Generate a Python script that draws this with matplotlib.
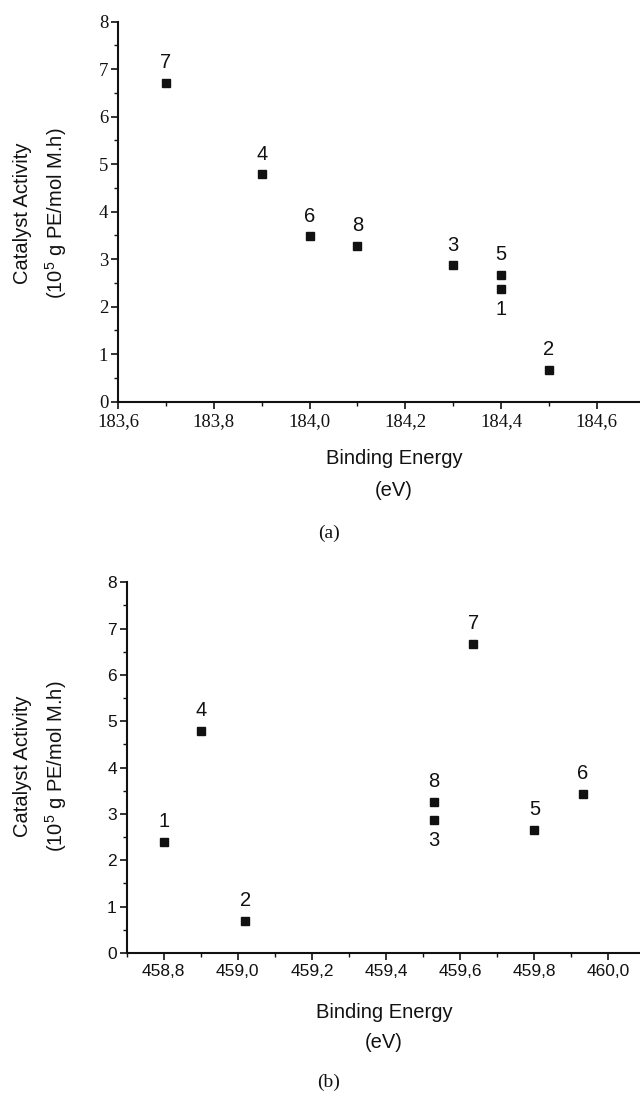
import matplotlib
matplotlib.use("Agg")
import matplotlib.pyplot as plt
from matplotlib.ticker import MultipleLocator, FuncFormatter

plt.rcParams['font.family'] = ['Liberation Sans', 'DejaVu Sans']
plt.rcParams['mathtext.fontset'] = 'custom'
plt.rcParams['mathtext.rm'] = 'Liberation Sans'
plt.rcParams['mathtext.it'] = 'Liberation Sans'

# ---- data (a): Ru 3d binding energy ----
labels_a = ['1', '2', '3', '4', '5', '6', '7', '8']
energy_a = [184.4, 184.5, 184.3, 183.9, 184.4, 184.0, 183.7, 184.1]
activity_a = [2.37, 0.67, 2.87, 4.79, 2.67, 3.48, 6.71, 3.28]
pos_a = ['below', 'above', 'above', 'above', 'above', 'above', 'above', 'above']

# ---- data (b): Ti 2p binding energy ----
labels_b = ['1', '2', '3', '4', '5', '6', '7', '8']
energy_b = [458.80, 459.02, 459.53, 458.90, 459.80, 459.93, 459.635, 459.53]
activity_b = [2.40, 0.70, 2.86, 4.79, 2.66, 3.44, 6.67, 3.26]
pos_b = ['above', 'above', 'below', 'above', 'above', 'above', 'above', 'above']

W, H = 640, 1100
fig = plt.figure(figsize=(W / 100, H / 100), dpi=100)


def comma_fmt(v, _):
    return f"{v:.1f}".replace('.', ',')


def make_axes(rect, xlim, tick_font, tick_size, energy, activity, labels, pos):
    ax = fig.add_axes(rect)
    ax.set_xlim(*xlim)
    ax.set_ylim(0, 8)
    for s in ['top', 'right']:
        ax.spines[s].set_visible(False)
    for s in ['left', 'bottom']:
        ax.spines[s].set_linewidth(1.5)
        ax.spines[s].set_color('#111111')
    ax.xaxis.set_major_locator(MultipleLocator(0.2))
    ax.xaxis.set_minor_locator(MultipleLocator(0.1))
    ax.yaxis.set_major_locator(MultipleLocator(1))
    ax.yaxis.set_minor_locator(MultipleLocator(0.5))
    ax.xaxis.set_major_formatter(FuncFormatter(comma_fmt))
    ax.yaxis.set_major_formatter(FuncFormatter(lambda v, _: f"{int(v)}"))
    ax.tick_params(which='major', direction='out', length=5, width=1.2, color='#111111')
    ax.tick_params(which='minor', direction='out', length=3, width=1.0, color='#111111')
    ax.tick_params(axis='x', which='major', pad=3)
    ax.tick_params(axis='y', which='major', pad=2)
    for t in ax.get_xticklabels() + ax.get_yticklabels():
        t.set_fontfamily(tick_font)
        t.set_fontsize(tick_size)
        t.set_color('#111111')
    ax.plot(energy, activity, linestyle='none', marker='s', markersize=6,
            color='#111111', clip_on=False)
    for x, y, lab, p in zip(energy, activity, labels, pos):
        dy = 14.5 if p == 'above' else -14.5
        ax.annotate(lab, (x, y), xytext=(0, dy), textcoords='offset points',
                    ha='center', va='center', fontsize=14.5, color='#111111')
    return ax


def fx(px):
    return px / W


def fy(py):
    return 1 - py / H


# panel (a)
ax_a = make_axes([fx(118), fy(401.7), fx(640 - 118), (401.7 - 21.7) / H],
                 (183.6, 184.69), 'Liberation Serif', 13.5,
                 energy_a, activity_a, labels_a, pos_a)
# panel (b)
ax_b = make_axes([fx(126.5), fy(953), fx(640 - 126.5), (953 - 582.3) / H],
                 (458.7, 460.085), 'Liberation Sans', 12.5,
                 energy_b, activity_b, labels_b, pos_b)

txt = dict(ha='center', va='center', color='#111111')
for cy in (213, 766):
    fig.text(fx(23), fy(cy), 'Catalyst Activity', rotation=90, fontsize=14.5, **txt)
    fig.text(fx(56), fy(cy), r'(10$^5$ g PE/mol M.h)', rotation=90, fontsize=14.5, **txt)

fig.text(fx(394), fy(458), 'Binding Energy', fontsize=14.5, **txt)
fig.text(fx(394), fy(490), '(eV)', fontsize=14.5, **txt)
fig.text(fx(329), fy(533), '(a)', fontsize=14, family='Liberation Serif', **txt)

fig.text(fx(384), fy(1013), 'Binding Energy', fontsize=14.5, **txt)
fig.text(fx(384), fy(1042), '(eV)', fontsize=14.5, **txt)
fig.text(fx(329), fy(1082), '(b)', fontsize=14, family='Liberation Serif', **txt)

fig.savefig('out.png', dpi=100, facecolor='white')
